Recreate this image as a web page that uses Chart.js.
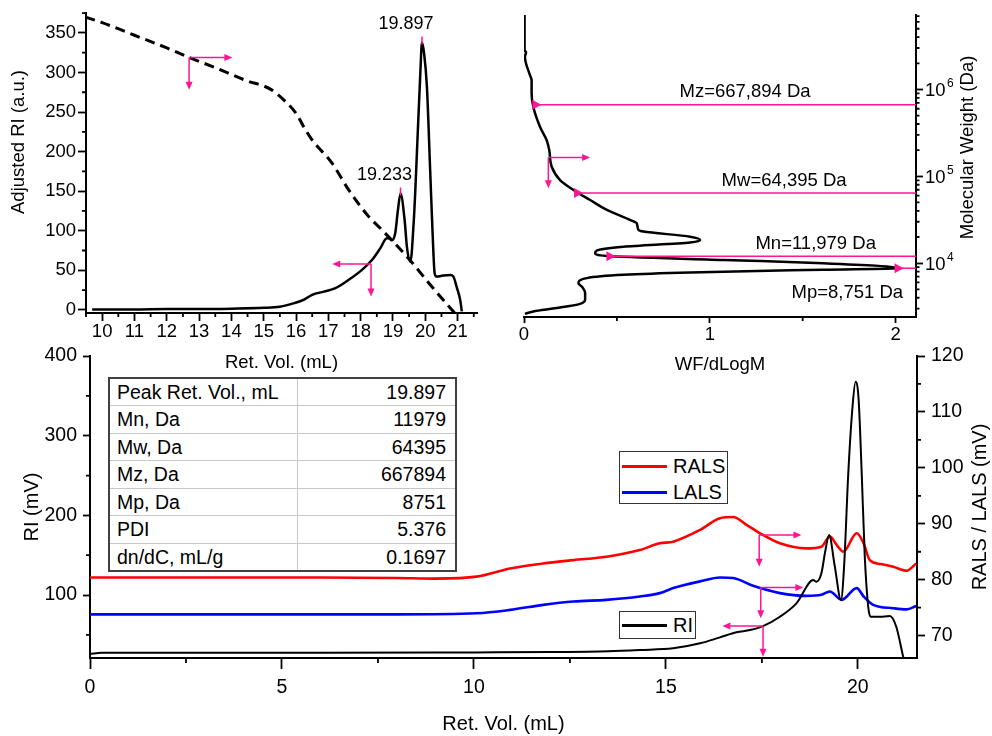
<!DOCTYPE html>
<html><head><meta charset="utf-8">
<script src="https://cdn.jsdelivr.net/npm/chart.js@4.4.1/dist/chart.umd.min.js"></script>
<style>
html,body{margin:0;padding:0;background:#fff;}
body{width:992px;height:736px;overflow:hidden;position:relative;font-family:'Liberation Sans',Arial,sans-serif;color:#000;}
canvas{position:absolute;left:0;top:0;}
#tbl{position:absolute;left:108px;top:377px;border-collapse:collapse;table-layout:fixed;width:347px;font-size:19.5px;background:#fff;border:2px solid #404040;z-index:5;}
#tbl td{height:27.5px;padding:0;box-sizing:border-box;border:1.5px solid #c8c8c8;white-space:nowrap;line-height:20px;}
#tbl td.l{padding-left:7px;text-align:left;}
#tbl td.r{padding-right:9px;text-align:right;}
.lg{position:absolute;box-sizing:border-box;border:1.5px solid #333;background:#fff;z-index:5;}
.lg .ln{position:absolute;left:2px;width:45px;height:3px;}
.lg span{position:absolute;left:53px;font-size:20px;line-height:20px;}
</style>
</head><body>
<canvas id="cb" width="992" height="736"></canvas>
<canvas id="ctl" width="992" height="736"></canvas>
<canvas id="ctr" width="992" height="736"></canvas>
<table id="tbl"><colgroup><col style="width:188px"><col style="width:159px"></colgroup><tbody id="tb"></tbody></table>
<div class="lg" style="left:619px;top:451px;width:109px;height:53px">
  <div class="ln" style="top:12.5px;background:#ff0000"></div><span style="top:4px">RALS</span>
  <div class="ln" style="top:38.5px;background:#0000ff"></div><span style="top:30px">LALS</span>
</div>
<div class="lg" style="left:619px;top:611px;width:77px;height:28px">
  <div class="ln" style="top:11.5px;background:#000"></div><span style="top:3px">RI</span>
</div>
<script>
// ---------------- DATA ----------------
// Top-left: adjusted RI vs retention volume
const tlRiX = [9.69,10.5,11,12,13,14,15,15.5,15.94,16.25,16.5,16.86,17.22,17.63,18.04,18.35,18.61,18.81,18.9,18.97,19.07,19.15,19.233,19.36,19.43,19.54,19.64,19.69,19.74,19.85,19.897,19.96,20.05,20.15,20.23,20.29,20.35,20.51,20.77,20.87,20.97,21.08,21.13];
const tlRiY = [0.5,0.5,0.5,1,1,1.5,2.5,4,8.5,13,19,23,27.4,37.9,50.5,63,78,90.5,90,88,97,125,147,113.6,80,61,110,150,198,303,338,325,282,177,92.5,46,42,43,44,42,29,12.6,-2];
// Top-left: calibration (molecular weight) curve, dashed
const tlCalX = [9.48,10,11,12,12.69,13.5,14.44,15.22,15.68,16.04,16.24,16.5,17.12,17.63,18.25,18.66,19.48,20.2,20.82,20.93];
const tlCalY = [370,363,347,331,319,306,290,278.6,263,246,231,214.6,185,151.5,117.8,101,65,29.4,0,-5];
const tlXTicks = [10,11,12,13,14,15,16,17,18,19,20,21];
const tlXMinor = [9.5,10.5,11.5,12.5,13.5,14.5,15.5,16.5,17.5,18.5,19.5,20.5,21.5];
const tlYTicks = [0,50,100,150,200,250,300,350];
const tlYMinor = [25,75,125,175,225,275,325,375];
const tlPeakX = [19.233,19.897];
const tlPeakY = [147,338];
const tlPeakLabels = ['19.233','19.897'];

// Top-right: WF/dLogM vs molecular weight
const trWf = [0.003,0.003,0.011,0.005,0.032,0.041,0.041,0.05,0.086,0.122,0.136,0.149,0.194,0.266,0.356,0.446,0.571,0.607,0.616,0.643,0.894,0.948,0.894,0.535,0.392,0.383,0.446,1.074,1.61,2.02,1.61,0.894,0.535,0.338,0.293,0.311,0.329,0.329,0.302,0.176,0.05,0.005];
const trMw = [7240000,2820000,2690000,2370000,1460000,1280000,900000,631000,372000,261000,200000,129000,90600,69700,53300,41000,31500,28800,24200,23100,20200,18500,17300,15500,14000,13000,12100,10900,10000,8751,8410,7800,7350,6730,5890,5380,4520,3780,3400,3040,2780,2610];
const trXTicks = [0,1,2];
const trXMinor = [0.5,1.5];
const trYTicks = [10000,100000,1000000];
const trYTickBase = '10';
const trYTickExp = ['4','5','6'];
const trYMinor = [3000,4000,5000,6000,7000,8000,9000,20000,30000,40000,50000,60000,70000,80000,90000,200000,300000,400000,500000,600000,700000,800000,900000,2000000,3000000,4000000,5000000,6000000,7000000];
const avgNames = ['Mz=667,894 Da','Mw=64,395 Da','Mn=11,979 Da','Mp=8,751 Da'];
const avgVals = [667894,64395,11979,8751];
const avgWfStart = [0.05,0.275,0.449,2.0];

// Bottom: chromatograms
const btRiX = [0,0.3,3,6,9,10,12,13.5,14.32,15.19,15.89,16.41,16.84,17.19,17.53,17.97,18.4,18.84,18.92,19.05,19.15,19.25,19.4,19.56,19.64,19.75,19.86,19.94,20.02,20.1,20.18,20.27,20.33,20.57,20.83,21.0,21.18,21.3];
const btRiY = [26,27.5,27.5,27.5,27.8,28,28.5,29.5,31,33.1,39.4,46.9,53.2,56.1,61.1,72.8,89.6,118.8,116.7,127.3,155,175.3,135.6,93.7,135,252.7,336,367.7,345,252.7,148,85,72.8,72.8,73.6,60.2,22.6,0];
const btRalsX = [0,2,4,6,8,9,10.07,10.94,11.8,12.59,13.45,14.32,14.84,15.19,15.89,16.41,16.75,17.1,17.45,17.97,18.66,19.05,19.27,19.45,19.62,19.97,20.15,20.31,20.6,20.92,21.27,21.52];
const btRals = [80.4,80.4,80.4,80.4,80.3,80.2,80.55,82.0,82.9,83.5,84.1,85.3,86.5,86.8,88.9,91.0,91.2,89.8,88.3,86.5,85.6,85.9,87.7,86.2,85.0,88.3,86.5,83.5,82.8,82.3,81.6,82.9];
const btLalsX = [0,2,4,6,8,10.07,10.94,11.8,12.59,13.45,14.32,14.84,15.19,15.89,16.41,16.75,17.27,17.97,18.66,19.05,19.27,19.58,19.97,20.15,20.4,20.92,21.27,21.52];
const btLals = [73.8,73.8,73.8,73.8,73.8,74.0,74.6,75.5,76.1,76.4,77.0,77.6,78.5,79.7,80.4,80.3,78.9,77.6,77.1,77.3,77.9,76.4,78.5,77.0,75.5,74.9,74.7,75.3];
const btXTicks = [0,5,10,15,20];
const btXMinor = [2.5,7.5,12.5,17.5];
const btYTicks = [100,200,300,400];
const btYMinor = [50,150,250,350];
const btY2Ticks = [70,80,90,100,110,120];
const btY2Minor = [75,85,95,105,115];

// Results table
const tableLabels = ['Peak Ret. Vol., mL','Mn, Da','Mw, Da','Mz, Da','Mp, Da','PDI','dn/dC, mL/g'];
const tableValues = ['19.897','11979','64395','667894','8751','5.376','0.1697'];

// --------------- HELPERS ---------------
const FF = "'Liberation Sans', Arial, sans-serif";
const PINK = '#ff1493';
Chart.defaults.font.family = FF;
Chart.defaults.color = '#000';
const zip = (xs, ys) => xs.map((x, i) => ({x: x, y: ys[i]}));

function drawTicks(ctx, scale, vals, len, side, area) {
  ctx.save();
  ctx.beginPath();
  vals.forEach(v => {
    const p = scale.getPixelForValue(v);
    if (side === 'bottom') { ctx.moveTo(p, area.bottom); ctx.lineTo(p, area.bottom + len); }
    if (side === 'left') { ctx.moveTo(area.left, p); ctx.lineTo(area.left - len, p); }
    if (side === 'right') { ctx.moveTo(area.right, p); ctx.lineTo(area.right + len, p); }
  });
  ctx.lineWidth = 1.8; ctx.strokeStyle = '#000'; ctx.stroke();
  ctx.restore();
}
function arrow(ctx, x1, y1, x2, y2) {
  const a = Math.atan2(y2 - y1, x2 - x1), L = 8, H = 3.5;
  const c = Math.cos(a), s = Math.sin(a);
  ctx.beginPath(); ctx.moveTo(x1, y1); ctx.lineTo(x2 - L * 0.7 * c, y2 - L * 0.7 * s); ctx.stroke();
  ctx.beginPath(); ctx.moveTo(x2, y2);
  ctx.lineTo(x2 - L * c - H * s, y2 - L * s + H * c);
  ctx.lineTo(x2 - L * c + H * s, y2 - L * s - H * c);
  ctx.closePath(); ctx.fill();
}
function axisArrows(ctx, xs, ys, ox, oy, hx, vy) {
  const px = xs.getPixelForValue(ox), py = ys.getPixelForValue(oy);
  ctx.save();
  ctx.strokeStyle = PINK; ctx.fillStyle = PINK; ctx.lineWidth = 1.5;
  arrow(ctx, px, py, xs.getPixelForValue(hx), py);
  arrow(ctx, px, py, px, ys.getPixelForValue(vy));
  ctx.restore();
}
function vText(ctx, text, x, y, size) {
  ctx.save();
  ctx.translate(x, y); ctx.rotate(-Math.PI / 2);
  ctx.font = size + 'px ' + FF; ctx.fillStyle = '#000';
  ctx.textAlign = 'center'; ctx.textBaseline = 'middle';
  ctx.fillText(text, 0, 0);
  ctx.restore();
}
const commonOpts = {responsive: false, animation: false, events: [],
  plugins: {legend: {display: false}, tooltip: {enabled: false}}};

// --------------- TABLE ---------------
const tb = document.getElementById('tb');
tableLabels.forEach((l, i) => {
  const tr = document.createElement('tr');
  const a = document.createElement('td'); a.className = 'l'; a.textContent = l;
  const b = document.createElement('td'); b.className = 'r'; b.textContent = tableValues[i];
  tr.appendChild(a); tr.appendChild(b); tb.appendChild(tr);
});

// --------------- TOP-LEFT ---------------
new Chart(document.getElementById('ctl'), {
  type: 'line',
  data: {datasets: [
    {data: zip(tlRiX, tlRiY), borderColor: '#000', borderWidth: 2.5, pointRadius: 0, cubicInterpolationMode: 'monotone'},
    {data: zip(tlCalX, tlCalY), borderColor: '#000', borderWidth: 3, borderDash: [10, 6], pointRadius: 0, cubicInterpolationMode: 'monotone'}
  ]},
  options: Object.assign({}, commonOpts, {
    layout: {padding: {left: 0, top: 13, right: 515, bottom: 362}},
    scales: {
      x: {type: 'linear', position: 'bottom', min: 9.5, max: 21.6,
        afterFit: s => { s.height = 61; },
        afterBuildTicks: s => { s.ticks = tlXTicks.map(v => ({value: v})); },
        grid: {drawOnChartArea: false, tickLength: 8, tickWidth: 1.8, tickColor: '#000'},
        border: {color: '#000', width: 2},
        ticks: {color: '#000', font: {size: 18.5}, padding: 0, maxRotation: 0, autoSkip: false, callback: v => String(v)},
        title: {display: true, text: 'Ret. Vol. (mL)', font: {size: 18.5}, color: '#000', padding: 0}},
      y: {type: 'linear', position: 'left', min: -4, max: 375,
        afterFit: s => { s.width = 86; },
        afterBuildTicks: s => { s.ticks = tlYTicks.map(v => ({value: v})); },
        grid: {drawOnChartArea: false, tickLength: 8, tickWidth: 1.8, tickColor: '#000'},
        border: {color: '#000', width: 2},
        ticks: {color: '#000', font: {size: 18.5}, padding: 2, callback: v => String(v)}}
    }
  }),
  plugins: [{id: 'tlDeco', afterDraw(chart) {
    const ctx = chart.ctx, a = chart.chartArea, x = chart.scales.x, y = chart.scales.y;
    drawTicks(ctx, x, tlXMinor, 4, 'bottom', a);
    drawTicks(ctx, y, tlYMinor, 4, 'left', a);
    vText(ctx, 'Adjusted RI (a.u.)', 19, 142, 18.5);
    axisArrows(ctx, x, y, 12.69, 319, 14.03, 278);
    axisArrows(ctx, x, y, 18.32, 58, 17.12, 16.8);
    ctx.save();
    ctx.font = '18px ' + FF; ctx.fillStyle = '#000'; ctx.textAlign = 'center'; ctx.textBaseline = 'middle';
    tlPeakX.forEach((px, i) => {
      const X = x.getPixelForValue(px), Y = y.getPixelForValue(tlPeakY[i]);
      ctx.strokeStyle = PINK; ctx.lineWidth = 1.5;
      ctx.beginPath(); ctx.moveTo(X, Y + 2); ctx.lineTo(X, Y - 6); ctx.stroke();
      ctx.fillText(tlPeakLabels[i], X - 16, Y - 18);
    });
    ctx.restore();
  }}]
});

// --------------- TOP-RIGHT ---------------
new Chart(document.getElementById('ctr'), {
  type: 'line',
  data: {datasets: [
    {data: zip(trWf, trMw), borderColor: '#000', borderWidth: 2.5, pointRadius: 0, cubicInterpolationMode: 'monotone'}
  ]},
  options: Object.assign({}, commonOpts, {
    indexAxis: 'y',
    layout: {padding: {left: 524, top: 15, right: 0, bottom: 360}},
    scales: {
      x: {type: 'linear', position: 'bottom', min: 0, max: 2.11,
        afterFit: s => { s.height = 59; },
        afterBuildTicks: s => { s.ticks = trXTicks.map(v => ({value: v})); },
        grid: {drawOnChartArea: false, tickLength: 6, tickWidth: 1.8, tickColor: '#000'},
        border: {color: '#000', width: 2},
        ticks: {color: '#000', font: {size: 18.5}, padding: 1, maxRotation: 0, autoSkip: false, callback: v => String(v)},
        title: {display: true, text: 'WF/dLogM', font: {size: 18.5}, color: '#000', padding: 0}},
      y: {type: 'logarithmic', position: 'right', min: 2400, max: 7200000,
        afterFit: s => { s.width = 76; },
        afterBuildTicks: s => { s.ticks = trYTicks.map(v => ({value: v})); },
        grid: {drawOnChartArea: false, tickLength: 7, tickWidth: 1.8, tickColor: '#000'},
        border: {color: '#000', width: 2},
        ticks: {display: false}}
    }
  }),
  plugins: [{id: 'trDeco', afterDraw(chart) {
    const ctx = chart.ctx, a = chart.chartArea, x = chart.scales.x, y = chart.scales.y;
    drawTicks(ctx, x, trXMinor, 4, 'bottom', a);
    drawTicks(ctx, y, trYMinor, 3.5, 'right', a);
    ctx.save();
    ctx.fillStyle = '#000'; ctx.textAlign = 'left'; ctx.textBaseline = 'middle';
    trYTicks.forEach((v, i) => {
      const p = y.getPixelForValue(v), lx = a.right + 9;
      ctx.font = '18.5px ' + FF; ctx.fillText(trYTickBase, lx, p + 1.5);
      const w = ctx.measureText(trYTickBase).width;
      ctx.font = '12px ' + FF; ctx.fillText(trYTickExp[i], lx + w + 1.5, p - 5.5);
    });
    ctx.restore();
    vText(ctx, 'Molecular Weight (Da)', 968, 147.5, 18.5);
    // average MW lines
    const labelWf = [1.19, 1.40, 1.57, 1.74];
    const labelDy = [-13, -12, -12.6, 25];
    ctx.save();
    avgVals.forEach((m, i) => {
      const Y = y.getPixelForValue(m), X0 = x.getPixelForValue(avgWfStart[i]);
      ctx.strokeStyle = PINK; ctx.fillStyle = PINK; ctx.lineWidth = 1.5;
      ctx.beginPath(); ctx.moveTo(X0, Y); ctx.lineTo(a.right, Y); ctx.stroke();
      ctx.beginPath(); ctx.moveTo(X0 - 1, Y - 5); ctx.lineTo(X0 + 8, Y); ctx.lineTo(X0 - 1, Y + 5); ctx.closePath(); ctx.fill();
      ctx.fillStyle = '#000'; ctx.font = '18.5px ' + FF; ctx.textAlign = 'center'; ctx.textBaseline = 'middle';
      ctx.fillText(avgNames[i], x.getPixelForValue(labelWf[i]), Y + labelDy[i]);
    });
    ctx.restore();
    axisArrows(ctx, x, y, 0.131, 165000, 0.356, 72800);
  }}]
});

// --------------- BOTTOM ---------------
new Chart(document.getElementById('cb'), {
  type: 'line',
  data: {datasets: [
    {label: 'RI', data: zip(btRiX, btRiY), yAxisID: 'y', borderColor: '#000', borderWidth: 2, pointRadius: 0, cubicInterpolationMode: 'monotone'},
    {label: 'RALS', data: zip(btRalsX, btRals), yAxisID: 'y2', borderColor: '#ff0000', borderWidth: 2.6, pointRadius: 0, cubicInterpolationMode: 'monotone'},
    {label: 'LALS', data: zip(btLalsX, btLals), yAxisID: 'y2', borderColor: '#0000ff', borderWidth: 2.6, pointRadius: 0, cubicInterpolationMode: 'monotone'}
  ]},
  options: Object.assign({}, commonOpts, {
    layout: {padding: {left: 0, top: 356, right: 0, bottom: 0}},
    scales: {
      x: {type: 'linear', position: 'bottom', min: 0, max: 21.54,
        afterFit: s => { s.height = 78; },
        afterBuildTicks: s => { s.ticks = btXTicks.map(v => ({value: v})); },
        grid: {drawOnChartArea: false, tickLength: 11, tickWidth: 1.8, tickColor: '#000'},
        border: {color: '#000', width: 2},
        ticks: {color: '#000', font: {size: 19.5}, padding: 7, maxRotation: 0, autoSkip: false, callback: v => String(v)},
        title: {display: true, text: 'Ret. Vol. (mL)', font: {size: 20}, color: '#000', padding: 0}},
      y: {type: 'linear', position: 'left', min: 21, max: 400,
        afterFit: s => { s.width = 90; },
        afterBuildTicks: s => { s.ticks = btYTicks.map(v => ({value: v})); },
        grid: {drawOnChartArea: false, tickLength: 7, tickWidth: 1.8, tickColor: '#000'},
        border: {color: '#000', width: 2},
        ticks: {color: '#000', font: {size: 19.5}, padding: 6, callback: v => String(v)},
        title: {display: true, text: 'RI (mV)', font: {size: 20}, color: '#000', padding: {top: 20, bottom: 0}}},
      y2: {type: 'linear', position: 'right', min: 66, max: 120,
        afterFit: s => { s.width = 75; },
        afterBuildTicks: s => { s.ticks = btY2Ticks.map(v => ({value: v})); },
        grid: {drawOnChartArea: false, tickLength: 8, tickWidth: 1.8, tickColor: '#000'},
        border: {color: '#000', width: 2},
        ticks: {color: '#000', font: {size: 19.5}, padding: 6, callback: v => String(v)}}
    }
  }),
  plugins: [{id: 'btDeco', afterDraw(chart) {
    const ctx = chart.ctx, a = chart.chartArea, x = chart.scales.x, y = chart.scales.y, y2 = chart.scales.y2;
    drawTicks(ctx, x, btXMinor, 5, 'bottom', a);
    drawTicks(ctx, y, btYMinor, 4, 'left', a);
    drawTicks(ctx, y2, btY2Minor, 4, 'right', a);
    vText(ctx, 'RALS / LALS (mV)', 980, 507, 20);
    axisArrows(ctx, x, y2, 17.43, 88.0, 18.53, 82.3);
    axisArrows(ctx, x, y2, 17.47, 78.6, 18.58, 73.1);
    axisArrows(ctx, x, y, 17.53, 61.1, 16.47, 22.6);
  }}]
});
</script>
</body></html>
